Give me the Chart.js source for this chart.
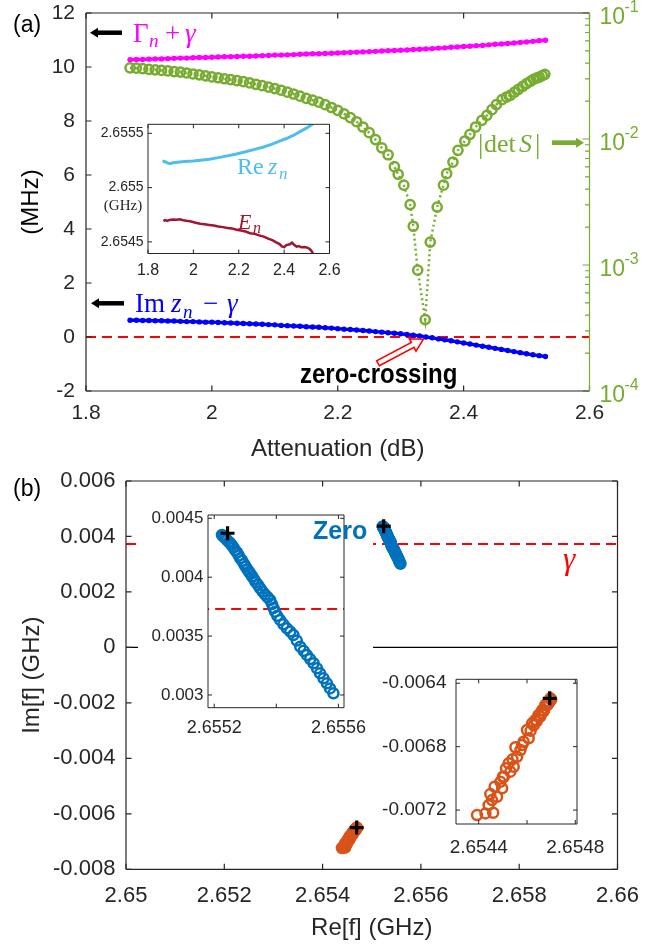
<!DOCTYPE html>
<html>
<head>
<meta charset="utf-8">
<script src="https://cdn.jsdelivr.net/npm/chart.js@4.4.1/dist/chart.umd.min.js"></script>
<style>
    html, body { margin: 0; padding: 0; background: #fff; }
    #wrap { position: relative; width: 664px; height: 947px; }
    canvas { position: absolute; left: 0; top: 0; }
</style>
</head>
<body>
<div id="wrap">
    <canvas id="cA" width="664" height="947"></canvas>
    <canvas id="cAin" width="664" height="947"></canvas>
    <canvas id="cB" width="664" height="947"></canvas>
    <canvas id="cBz" width="664" height="947"></canvas>
    <canvas id="cBp" width="664" height="947"></canvas>
</div>
<script>
// ---- (a) datos vs atenuación (dB) ----
const attDots = [1.87, 1.88, 1.89, 1.90, 1.91, 1.92, 1.93, 1.94, 1.95, 1.96, 1.97, 1.98, 1.99, 2.00, 2.01, 2.02, 2.03,
    2.04, 2.05, 2.06, 2.07, 2.08, 2.09, 2.10, 2.11, 2.12, 2.13, 2.14, 2.15, 2.16, 2.17, 2.18, 2.19, 2.20, 2.21, 2.22,
    2.23, 2.24, 2.25, 2.26, 2.27, 2.28, 2.29, 2.30, 2.31, 2.32, 2.33, 2.34, 2.35, 2.36, 2.37, 2.38, 2.39, 2.40, 2.41,
    2.42, 2.43, 2.44, 2.45, 2.46, 2.47, 2.48, 2.49, 2.50, 2.51, 2.52, 2.53];
// Gamma_n + gamma (MHz)
const gammaPlus = [10.27, 10.28, 10.28, 10.29, 10.30, 10.30, 10.31, 10.32, 10.33, 10.33, 10.34, 10.35, 10.35, 10.36,
    10.37, 10.38, 10.38, 10.39, 10.40, 10.40, 10.41, 10.42, 10.43, 10.44, 10.44, 10.45, 10.46, 10.47, 10.48, 10.49,
    10.49, 10.50, 10.51, 10.52, 10.53, 10.54, 10.55, 10.56, 10.57, 10.58, 10.59, 10.60, 10.61, 10.62, 10.63, 10.65,
    10.66, 10.67, 10.68, 10.70, 10.71, 10.73, 10.74, 10.76, 10.77, 10.79, 10.80, 10.82, 10.84, 10.85, 10.87, 10.89,
    10.91, 10.93, 10.95, 10.97, 10.99];
// Im z_n - gamma (MHz)
const imZMinusGamma = [0.62, 0.62, 0.61, 0.61, 0.60, 0.60, 0.59, 0.59, 0.58, 0.57, 0.57, 0.56, 0.55, 0.55, 0.54, 0.53,
    0.52, 0.51, 0.50, 0.49, 0.48, 0.47, 0.46, 0.45, 0.43, 0.42, 0.41, 0.40, 0.38, 0.37, 0.36, 0.34, 0.33, 0.31, 0.29,
    0.28, 0.26, 0.24, 0.22, 0.20, 0.18, 0.16, 0.14, 0.12, 0.09, 0.07, 0.04, 0.00, -0.03, -0.07, -0.10, -0.14, -0.18,
    -0.22, -0.26, -0.30, -0.34, -0.38, -0.42, -0.46, -0.50, -0.54, -0.58, -0.62, -0.66, -0.69, -0.72];
// |det S|
const attDet = [1.87, 1.88, 1.89, 1.90, 1.91, 1.92, 1.93, 1.94, 1.95, 1.96, 1.97, 1.98, 1.99, 2.00, 2.01, 2.02, 2.03,
    2.04, 2.05, 2.06, 2.07, 2.08, 2.09, 2.10, 2.11, 2.12, 2.13, 2.14, 2.15, 2.16, 2.17, 2.18, 2.19, 2.20, 2.21, 2.22,
    2.23, 2.24, 2.25, 2.26, 2.27, 2.28, 2.29, 2.296, 2.305, 2.315, 2.320, 2.327, 2.339, 2.347, 2.358, 2.368, 2.373,
    2.383, 2.391, 2.402, 2.410, 2.419, 2.429, 2.437, 2.445, 2.452, 2.461, 2.468, 2.474, 2.481, 2.487, 2.494, 2.500,
    2.506, 2.511, 2.516, 2.520, 2.525, 2.529];
const detS = [0.03673, 0.03648, 0.03614, 0.03573, 0.03540, 0.03499, 0.03467, 0.03428, 0.03396, 0.03342, 0.03281,
    0.03228, 0.03170, 0.03112, 0.03062, 0.03006, 0.02958, 0.02904, 0.02851, 0.02786, 0.02716, 0.02649, 0.02582,
    0.02512, 0.02438, 0.02355, 0.02275, 0.02188, 0.02104, 0.02032, 0.01959, 0.01871, 0.01778, 0.01690, 0.01585,
    0.01479, 0.01371, 0.01245, 0.01122, 0.00989, 0.00851, 0.00750, 0.00603, 0.00525, 0.00430, 0.00302, 0.00203,
    0.000912, 0.000369, 0.00152, 0.00288, 0.00430, 0.00531, 0.00656, 0.00813, 0.00964, 0.01089, 0.01245, 0.01406,
    0.01542, 0.01710, 0.01875, 0.02051, 0.02148, 0.02223, 0.02355, 0.02477, 0.02618, 0.02754, 0.02871, 0.02979,
    0.03048, 0.03105, 0.03184, 0.03258];
// recuadro de (a): Re z_n y E_n (GHz)
const attRe = [1.864, 1.875, 1.885, 1.898, 1.91, 1.93, 1.96, 2.00, 2.03, 2.07, 2.11, 2.15, 2.19, 2.23, 2.27, 2.31,
    2.35, 2.38, 2.41, 2.44, 2.47, 2.50, 2.529];
const reZ = [2.655245, 2.655238, 2.655228, 2.655221, 2.655228, 2.655234, 2.655240, 2.655246, 2.655252, 2.655262,
    2.655276, 2.655292, 2.655310, 2.655330, 2.655352, 2.655374, 2.655402, 2.655428, 2.655452, 2.655480, 2.655515,
    2.655550, 2.655590];
const attE = [1.868, 1.875, 1.885, 1.895, 1.91, 1.925, 1.94, 1.955, 1.97, 1.99, 2.01, 2.03, 2.05, 2.07, 2.09, 2.11,
    2.13, 2.15, 2.17, 2.19, 2.21, 2.23, 2.25, 2.27, 2.29, 2.31, 2.33, 2.35, 2.365, 2.38, 2.39, 2.40, 2.41, 2.425,
    2.435, 2.445, 2.455, 2.465, 2.475, 2.49, 2.505, 2.515, 2.522, 2.529];
const eN = [2.654692, 2.654700, 2.654694, 2.654702, 2.654706, 2.654705, 2.654708, 2.654700, 2.654694, 2.654688,
    2.654676, 2.654668, 2.654662, 2.654656, 2.654650, 2.654641, 2.654636, 2.654628, 2.654624, 2.654612, 2.654605,
    2.654595, 2.654580, 2.654574, 2.654560, 2.654548, 2.654530, 2.654514, 2.654496, 2.654480, 2.654458, 2.654452,
    2.654470, 2.654478, 2.654493, 2.654470, 2.654456, 2.654462, 2.654450, 2.654452, 2.654445, 2.654430, 2.654412,
    2.654385];

// ---- (b) plano complejo (GHz) ----
const zeroRe = [2.655225, 2.655228, 2.655232, 2.655236, 2.655241, 2.655247, 2.655252, 2.655257, 2.655262, 2.655268,
    2.655274, 2.655279, 2.655284, 2.655290, 2.655296, 2.655301, 2.655307, 2.655312, 2.655316, 2.655322, 2.655328,
    2.655334, 2.655341, 2.655348, 2.655356, 2.655364, 2.655372, 2.655380, 2.655386, 2.655391, 2.655396, 2.655403,
    2.655412, 2.655423, 2.655434, 2.655445, 2.655455, 2.655466, 2.655477, 2.655488, 2.655498, 2.655509, 2.655520,
    2.655531, 2.655541, 2.655552, 2.655563, 2.655573, 2.655584];
const zeroIm = [0.004358, 0.004352, 0.004340, 0.004330, 0.004316, 0.004300, 0.004288, 0.004270, 0.004252, 0.004228,
    0.004208, 0.004185, 0.004160, 0.004140, 0.004112, 0.004090, 0.004066, 0.004046, 0.004033, 0.004008, 0.003984,
    0.003958, 0.003934, 0.003906, 0.003878, 0.003852, 0.003830, 0.003806, 0.003772, 0.003738, 0.003707, 0.003672,
    0.003637, 0.003600, 0.003566, 0.003538, 0.003509, 0.003462, 0.003410, 0.003375, 0.003340, 0.003305, 0.003269,
    0.003226, 0.003184, 0.003141, 0.003099, 0.003056, 0.003014];
const poleRe = [2.654393, 2.654428, 2.654460, 2.654441, 2.654455, 2.654448, 2.654476, 2.654466, 2.654497, 2.654490,
    2.654504, 2.654513, 2.654531, 2.654545, 2.654524, 2.654559, 2.654552, 2.654573, 2.654586, 2.654607, 2.654600,
    2.654621, 2.654635, 2.654648, 2.654663, 2.654676, 2.654690, 2.654697, 2.654580, 2.654615, 2.654628, 2.654655,
    2.654670, 2.654683, 2.654692, 2.654700, 2.654688, 2.654660, 2.654640, 2.654540, 2.654500];
const poleIm = [-0.007232, -0.007221, -0.007217, -0.007169, -0.007137, -0.007099, -0.007116, -0.007053, -0.007063,
    -0.007022, -0.006990, -0.006937, -0.006958, -0.006927, -0.006905, -0.006864, -0.006804, -0.006821, -0.006769,
    -0.006747, -0.006695, -0.006653, -0.006632, -0.006600, -0.006569, -0.006537, -0.006516, -0.006495, -0.006790,
    -0.006700, -0.006665, -0.006610, -0.006575, -0.006540, -0.006520, -0.006505, -0.006530, -0.006590, -0.006640,
    -0.006880, -0.006990];
const zeroMark = [2.655243, 0.004373];
const poleMark = [2.654694, -0.006495];
const gammaGHz = 0.00373;

// ---- marcas de los ejes ----
const aXTicks = [1.8, 2, 2.2, 2.4, 2.6];
const aYTicks = [-2, 0, 2, 4, 6, 8, 10, 12];
const aRDecades = [1e-4, 1e-3, 1e-2, 1e-1];
const aInXTicks = [1.8, 2, 2.2, 2.4, 2.6];
const aInYTicks = [2.6545, 2.655, 2.6555];
const bXTicks = [2.65, 2.652, 2.654, 2.656, 2.658, 2.66];
const bYTicks = [-0.008, -0.006, -0.004, -0.002, 0, 0.002, 0.004, 0.006];
const zInXTicks = [2.6552, 2.6554, 2.6556];
const zInXLabels = [2.6552, 2.6556];
const zInYTicks = [0.003, 0.0035, 0.004, 0.0045];
const pInXTicks = [2.6544, 2.6546, 2.6548];
const pInXLabels = [2.6544, 2.6548];
const pInYTicks = [-0.0072, -0.0068, -0.0064];

const SANS = '"Liberation Sans", Arial, sans-serif';
const SERIF = '"Liberation Serif", "DejaVu Serif", serif';
const W = 664, H = 947;
const pts = (xs, ys) => xs.map((x, i) => ({ x: x, y: ys[i] }));

// configuración de caja/marcas por lienzo (fuera de las opciones de Chart.js)
const frames = {};

// Caja y marcas hacia dentro (estilo MATLAB)
Chart.register({
    id: 'frame',
    beforeDraw(chart) {
        const o = frames[chart.canvas.id];
        if (!o || !o.white) return;
        const c = chart.ctx, r = o.white;
        c.save();
        c.fillStyle = '#fff';
        c.fillRect(r[0], r[1], r[2] - r[0], r[3] - r[1]);
        c.restore();
    },
    afterDatasetsDraw(chart) {
        const o = frames[chart.canvas.id];
        if (!o) return;
        const ctx = chart.ctx, a = chart.chartArea;
        ctx.save();
        o.ticks.forEach(t => {
            const s = chart.scales[t.scale];
            const vals = t.values ? t.values : s.ticks.map(k => k.value);
            ctx.strokeStyle = t.color || o.color;
            ctx.lineWidth = o.lw;
            ctx.beginPath();
            vals.forEach(v => {
                const p = s.getPixelForValue(v);
                t.sides.forEach(side => {
                    if (side === 'bottom') { ctx.moveTo(p, a.bottom); ctx.lineTo(p, a.bottom - t.len); }
                    if (side === 'top') { ctx.moveTo(p, a.top); ctx.lineTo(p, a.top + t.len); }
                    if (side === 'left') { ctx.moveTo(a.left, p); ctx.lineTo(a.left + t.len, p); }
                    if (side === 'right') { ctx.moveTo(a.right, p); ctx.lineTo(a.right - t.len, p); }
                });
            });
            ctx.stroke();
        });
        const edge = (col, x1, y1, x2, y2) => {
            ctx.strokeStyle = col; ctx.lineWidth = o.lw;
            ctx.beginPath(); ctx.moveTo(x1, y1); ctx.lineTo(x2, y2); ctx.stroke();
        };
        edge(o.color, a.left, a.top, a.right, a.top);
        edge(o.color, a.left, a.bottom, a.right, a.bottom);
        edge(o.color, a.left, a.top, a.left, a.bottom);
        edge(o.rightColor || o.color, a.right, a.top, a.right, a.bottom);
        ctx.restore();
    }
});

function noPad(s) {
    s.paddingTop = 0; s.paddingBottom = 0; s.paddingLeft = 0; s.paddingRight = 0;
}

// eje lineal con marcas fijas; el tamaño fijo deja el área del gráfico donde queremos
function linAxis(pos, min, max, tickVals, labelVals, size, font, pad, color) {
    return {
        type: 'linear', position: pos, min: min, max: max,
        grid: { display: false, drawTicks: false },
        border: { display: false },
        afterBuildTicks: s => { s.ticks = tickVals.map(v => ({ value: v })); },
        afterFit: s => { if (s.isHorizontal()) s.height = size; else s.width = size; noPad(s); },
        ticks: {
            autoSkip: false, maxRotation: 0, minRotation: 0, padding: pad,
            color: color || '#262626', font: { family: SANS, size: font },
            callback: v => (labelVals.indexOf(v) >= 0 ? String(v) : '')
        }
    };
}

function txt(ctx, s, x, y, font, color, align, base) {
    ctx.font = font;
    ctx.fillStyle = color;
    ctx.textAlign = align || 'left';
    ctx.textBaseline = base || 'alphabetic';
    ctx.fillText(s, x, y);
}
function vtxt(ctx, s, x, y, font, color) {
    ctx.save();
    ctx.translate(x, y);
    ctx.rotate(-Math.PI / 2);
    txt(ctx, s, 0, 0, font, color, 'center', 'middle');
    ctx.restore();
}
function arrow(ctx, x1, y1, x2, y2, color, lw, hl, hw) {
    // flecha rellena de (x1,y1) a la punta (x2,y2)
    const L = Math.hypot(x2 - x1, y2 - y1), ux = (x2 - x1) / L, uy = (y2 - y1) / L;
    const bx = x2 - ux * hl, by = y2 - uy * hl;
    ctx.save();
    ctx.strokeStyle = color; ctx.fillStyle = color; ctx.lineWidth = lw;
    ctx.beginPath(); ctx.moveTo(x1, y1); ctx.lineTo(bx, by); ctx.stroke();
    ctx.beginPath();
    ctx.moveTo(x2, y2);
    ctx.lineTo(bx - uy * hw, by + ux * hw);
    ctx.lineTo(bx + uy * hw, by - ux * hw);
    ctx.closePath(); ctx.fill();
    ctx.restore();
}
function hollowArrow(ctx, x1, y1, x2, y2, sw, hw, hl, color) {
    const L = Math.hypot(x2 - x1, y2 - y1), ux = (x2 - x1) / L, uy = (y2 - y1) / L;
    const nx = -uy, ny = ux;
    const bx = x2 - ux * hl, by = y2 - uy * hl;
    ctx.save();
    ctx.beginPath();
    ctx.moveTo(x1 + nx * sw, y1 + ny * sw);
    ctx.lineTo(bx + nx * sw, by + ny * sw);
    ctx.lineTo(bx + nx * hw, by + ny * hw);
    ctx.lineTo(x2, y2);
    ctx.lineTo(bx - nx * hw, by - ny * hw);
    ctx.lineTo(bx - nx * sw, by - ny * sw);
    ctx.lineTo(x1 - nx * sw, y1 - ny * sw);
    ctx.closePath();
    ctx.fillStyle = '#fff'; ctx.fill();
    ctx.strokeStyle = color; ctx.lineWidth = 1.6; ctx.stroke();
    ctx.restore();
}

function opts(padding, scales) {
    return {
        responsive: false, animation: false, devicePixelRatio: 1,
        layout: { padding: padding },
        scales: scales,
        plugins: { legend: { display: false }, tooltip: { enabled: false } },
        elements: { line: { tension: 0 } }
    };
}

// ---------- (a) gráfico principal ----------
const A = { l: 86, t: 13, r: 589.5, b: 391 };
const logMinor = [];
aRDecades.slice(0, 3).forEach(d => { for (let m = 2; m <= 9; m++) logMinor.push(m * d); });
frames.cA = {
    color: '#262626', rightColor: '#77AC30', lw: 1.2,
    ticks: [
        { scale: 'x', sides: ['bottom', 'top'], len: 5.5 },
        { scale: 'y', sides: ['left'], len: 5.5 },
        { scale: 'yR', sides: ['right'], len: 7, values: aRDecades, color: '#77AC30' },
        { scale: 'yR', sides: ['right'], len: 4.5, values: logMinor, color: '#77AC30' }
    ]
};

new Chart(document.getElementById('cA'), {
    type: 'scatter',
    data: {
        datasets: [
            { data: [{ x: 1.8, y: 0 }, { x: 2.6, y: 0 }], showLine: true, borderColor: '#FF0000', borderWidth: 2,
              borderDash: [10, 6], pointRadius: 0, yAxisID: 'y', order: 3 },
            { data: pts(attDots, gammaPlus), showLine: true, borderColor: '#FF00FF', borderWidth: 3.4,
              pointRadius: 2.7, pointBorderWidth: 0, pointBackgroundColor: '#FF00FF', yAxisID: 'y', order: 2 },
            { data: pts(attDots, imZMinusGamma), showLine: true, borderColor: '#0000FF', borderWidth: 3.4,
              pointRadius: 2.7, pointBorderWidth: 0, pointBackgroundColor: '#0000FF', yAxisID: 'y', order: 2 },
            { data: pts(attDet, detS), showLine: true, borderColor: '#77AC30', borderWidth: 2.5,
              borderDash: [2, 3], pointRadius: 4.6, pointBorderWidth: 2.5, pointBorderColor: '#77AC30',
              pointBackgroundColor: 'rgba(0,0,0,0)', yAxisID: 'yR', order: 1 }
        ]
    },
    options: opts({ top: A.t, left: 0, right: 0, bottom: 0 }, {
        x: linAxis('bottom', 1.8, 2.6, aXTicks, aXTicks, H - A.b, 21, 10, '#262626'),
        y: linAxis('left', -2, 12, aYTicks, aYTicks, A.l, 21, 11, '#262626'),
        yR: {
            type: 'logarithmic', position: 'right', min: 1e-4, max: 1e-1,
            grid: { display: false, drawTicks: false }, border: { display: false },
            ticks: { display: false },
            afterFit: s => { s.width = W - A.r; noPad(s); }
        }
    }),
    plugins: [{
        id: 'notesA',
        afterDraw(chart) {
            const ctx = chart.ctx, a = chart.chartArea, s = chart.scales.yR;
            ctx.save();
            // etiquetas 10^k del eje derecho
            aRDecades.forEach(v => {
                const y = s.getPixelForValue(v);
                txt(ctx, '10', a.right + 10, y + 4.6, '23px ' + SANS, '#77AC30', 'left', 'middle');
                txt(ctx, String(Math.round(Math.log10(v))), a.right + 35, y - 5, '16px ' + SANS, '#77AC30', 'left', 'middle');
            });
            txt(ctx, '(a)', 13, 26, '23px ' + SANS, '#000', 'left', 'middle');
            vtxt(ctx, '(MHz)', 31.7, (a.top + a.bottom) / 2, '24px ' + SANS, '#000');
            txt(ctx, 'Attenuation (dB)', (a.left + a.right) / 2, 449, '24px ' + SANS, '#262626', 'center', 'middle');

            // Γn + γ
            const mg = '#FF00FF';
            txt(ctx, 'Γ', 133, 42, '27px ' + SERIF, mg);
            txt(ctx, 'n', 149, 47, 'italic 19px ' + SERIF, mg);
            txt(ctx, '+', 165, 42, '27px ' + SERIF, mg);
            txt(ctx, 'γ', 185, 42, 'italic 27px ' + SERIF, mg);
            arrow(ctx, 122, 32.7, 90, 32.7, '#000', 4.5, 8, 5);

            // Im zn − γ
            const bl = '#0000FF';
            txt(ctx, 'Im', 135, 312, '27px ' + SERIF, bl);
            txt(ctx, 'z', 171, 312, 'italic 27px ' + SERIF, bl);
            txt(ctx, 'n', 183, 318, 'italic 19px ' + SERIF, bl);
            txt(ctx, '−', 203, 312, '27px ' + SERIF, bl);
            txt(ctx, 'γ', 227, 312, 'italic 27px ' + SERIF, bl);
            arrow(ctx, 124, 303.3, 91, 303.3, '#000', 4.5, 8, 5);

            // |det S|
            const gr = '#77AC30';
            txt(ctx, '|', 478, 153, '27px ' + SERIF, gr);
            txt(ctx, 'det', 484, 152, '26px ' + SERIF, gr);
            txt(ctx, 'S', 519, 152, 'italic 26px ' + SERIF, gr);
            txt(ctx, '|', 535, 153, '27px ' + SERIF, gr);
            arrow(ctx, 552, 142.7, 584, 142.7, gr, 4.7, 8, 5);

            // texto algo más alto que ancho, como en la figura original
            ctx.save();
            ctx.translate(300, 383);
            ctx.scale(1, 1.15);
            txt(ctx, 'zero-crossing', 0, 0, 'bold 24px ' + SANS, '#000');
            ctx.restore();
            hollowArrow(ctx, 378, 363.3, 423.3, 339.3, 2.8, 7, 12, '#FF0000');
            ctx.restore();
        }
    }]
});

// ---------- (a) recuadro ----------
const AI = { l: 148, t: 124.3, r: 329.5, b: 253.5 };
frames.cAin = {
    color: '#262626', lw: 1, white: [94, 119, 343, 282],
    ticks: [
        { scale: 'x', sides: ['bottom', 'top'], len: 4 },
        { scale: 'y', sides: ['left', 'right'], len: 4 }
    ]
};
new Chart(document.getElementById('cAin'), {
    type: 'scatter',
    data: {
        datasets: [
            { data: pts(attRe, reZ), showLine: true, borderColor: '#4DBEEE', borderWidth: 3, pointRadius: 0 },
            { data: pts(attE, eN), showLine: true, borderColor: '#A2142F', borderWidth: 2.5, pointRadius: 0 }
        ]
    },
    options: opts({ top: AI.t, left: 0, right: W - AI.r, bottom: 0 }, {
        x: linAxis('bottom', 1.8, 2.6, aInXTicks, aInXTicks, H - AI.b, 16, 7),
        y: linAxis('left', 2.654393, 2.655583, aInYTicks, aInYTicks, AI.l, 14, 4.5)
    }),
    plugins: [{
        id: 'notesAin',
        afterDraw(chart) {
            const ctx = chart.ctx;
            ctx.save();
            txt(ctx, '(GHz)', 123, 206.5, '15px ' + SERIF, '#262626', 'center', 'middle');
            const lb = '#4DBEEE';
            txt(ctx, 'Re', 237, 173.5, '24px ' + SERIF, lb);
            txt(ctx, 'z', 268, 173.5, 'italic 24px ' + SERIF, lb);
            txt(ctx, 'n', 279, 178.5, 'italic 17px ' + SERIF, lb);
            const dr = '#A2142F';
            txt(ctx, 'E', 238, 228.5, 'italic 22px ' + SERIF, dr);
            txt(ctx, 'n', 253, 233, 'italic 16px ' + SERIF, dr);
            ctx.restore();
        }
    }]
});

// ---------- (b) gráfico principal ----------
const B = { l: 126, t: 481, r: 617.5, b: 869.3 };
const openCircle = (col) => ({ showLine: false, pointRadius: 5, pointBorderWidth: 2.5, pointBorderColor: col,
    pointBackgroundColor: 'rgba(0,0,0,0)', order: 2 });
const plusMark = { showLine: false, pointStyle: 'cross', pointRadius: 7, pointBorderWidth: 3.2,
    pointBorderColor: '#000', borderColor: '#000', order: 0 };
frames.cB = {
    color: '#262626', lw: 1.2,
    ticks: [
        { scale: 'x', sides: ['bottom', 'top'], len: 5.5 },
        { scale: 'y', sides: ['left', 'right'], len: 5.5 }
    ]
};

new Chart(document.getElementById('cB'), {
    type: 'scatter',
    data: {
        datasets: [
            { data: [{ x: 2.65, y: 0 }, { x: 2.66, y: 0 }], showLine: true, borderColor: '#000', borderWidth: 1.2,
              pointRadius: 0, order: 4 },
            { data: [{ x: 2.65, y: gammaGHz }, { x: 2.66, y: gammaGHz }], showLine: true, borderColor: '#FF0000',
              borderWidth: 2, borderDash: [10, 6], pointRadius: 0, order: 3 },
            Object.assign({ data: pts(zeroRe, zeroIm) }, openCircle('#0072BD')),
            Object.assign({ data: pts(poleRe, poleIm) }, openCircle('#D95319')),
            Object.assign({ data: [{ x: zeroMark[0], y: zeroMark[1] }, { x: poleMark[0], y: poleMark[1] }] }, plusMark)
        ]
    },
    options: opts({ top: B.t, left: 0, right: W - B.r, bottom: 0 }, {
        x: linAxis('bottom', 2.65, 2.66, bXTicks, bXTicks, H - B.b, 22, 13),
        y: linAxis('left', -0.008, 0.006, bYTicks, bYTicks, B.l, 22, 10.6)
    }),
    plugins: [{
        id: 'notesB',
        afterDraw(chart) {
            const ctx = chart.ctx, a = chart.chartArea;
            ctx.save();
            txt(ctx, '(b)', 13, 490, '23px ' + SANS, '#000', 'left', 'middle');
            vtxt(ctx, 'Im[f] (GHz)', 32, (a.top + a.bottom) / 2, '24px ' + SANS, '#262626');
            txt(ctx, 'Re[f] (GHz)', (a.left + a.right) / 2, 928, '24px ' + SANS, '#262626', 'center', 'middle');
            txt(ctx, 'Pole', 376, 848, 'bold 25px ' + SANS, '#D95319');
            txt(ctx, 'γ', 563, 569, 'italic 31px ' + SERIF, '#FF0000');
            ctx.restore();
        }
    }]
});

// ---------- (b) recuadro del cero ----------
const BZ = { l: 208, t: 515, r: 344, b: 707.7 };
frames.cBz = {
    color: '#262626', lw: 1, white: [138, 505, 373, 739],
    ticks: [
        { scale: 'x', sides: ['bottom', 'top'], len: 4 },
        { scale: 'y', sides: ['left', 'right'], len: 4 }
    ]
};
new Chart(document.getElementById('cBz'), {
    type: 'scatter',
    data: {
        datasets: [
            { data: [{ x: 2.6551, y: gammaGHz }, { x: 2.6557, y: gammaGHz }], showLine: true, borderColor: '#FF0000',
              borderWidth: 2, borderDash: [10, 6], pointRadius: 0, order: 3 },
            Object.assign({ data: pts(zeroRe, zeroIm) }, openCircle('#0072BD')),
            Object.assign({ data: [{ x: zeroMark[0], y: zeroMark[1] }] }, plusMark)
        ]
    },
    options: opts({ top: BZ.t, left: 0, right: W - BZ.r, bottom: 0 }, {
        x: linAxis('bottom', 2.65518, 2.655618, zInXTicks, zInXLabels, H - BZ.b, 18, 10),
        y: linAxis('left', 0.002892, 0.004528, zInYTicks, zInYTicks, BZ.l, 17, 4.5)
    }),
    plugins: [{
        id: 'notesBz',
        afterDraw(chart) {
            txt(chart.ctx, 'Zero', 313, 538.5, 'bold 25px ' + SANS, '#0072BD');
        }
    }]
});

// ---------- (b) recuadro del polo ----------
const BP = { l: 456, t: 679.3, r: 577, b: 824 };
frames.cBp = {
    color: '#262626', lw: 1, white: [375, 668, 611, 860],
    ticks: [
        { scale: 'x', sides: ['bottom', 'top'], len: 4 },
        { scale: 'y', sides: ['left', 'right'], len: 4 }
    ]
};
new Chart(document.getElementById('cBp'), {
    type: 'scatter',
    data: {
        datasets: [
            Object.assign({ data: pts(poleRe, poleIm) }, openCircle('#D95319')),
            Object.assign({ data: [{ x: poleMark[0], y: poleMark[1] }] }, plusMark)
        ]
    },
    options: opts({ top: BP.t, left: 0, right: W - BP.r, bottom: 0 }, {
        x: linAxis('bottom', 2.654306, 2.654807, pInXTicks, pInXLabels, H - BP.b, 19, 12),
        y: linAxis('left', -0.007288, -0.006375, pInYTicks, pInYTicks, BP.l, 19, 9.5)
    })
});
</script>
</body>
</html>
